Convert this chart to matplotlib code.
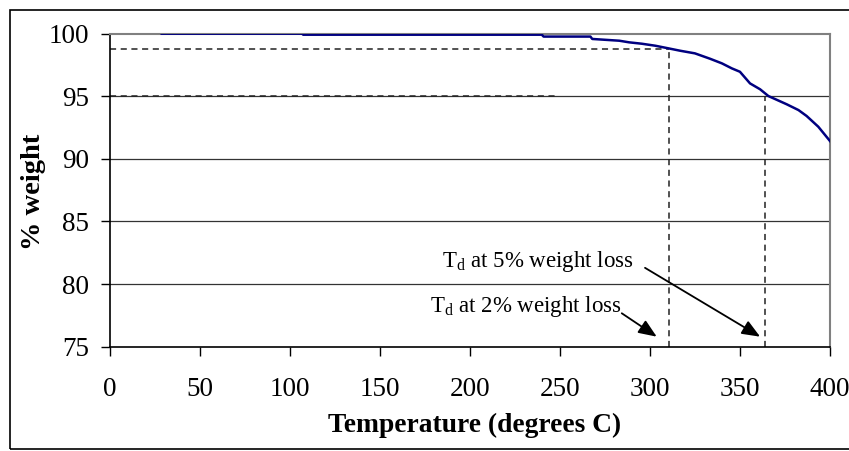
import matplotlib
matplotlib.use("Agg")
import matplotlib.pyplot as plt
from matplotlib.patches import Rectangle

plt.rcParams['font.family'] = ['Liberation Serif', 'DejaVu Serif']
plt.rcParams['mathtext.fontset'] = 'custom'
plt.rcParams['mathtext.rm'] = 'Liberation Serif'
plt.rcParams['mathtext.it'] = 'Liberation Serif:italic'

# TGA curve (temperature in C, % weight)
temperature = [29, 107, 107.5, 240, 241, 267, 268, 283, 288.5, 295.5, 303, 310.3,
               316.8, 325, 333.4, 340, 345.5, 350, 355.6, 361.2, 365.8, 376,
               382.5, 387, 393.5, 401]
weight = [100.0, 100.0, 99.92, 99.92, 99.77, 99.77, 99.58, 99.44, 99.31, 99.2,
          99.04, 98.83, 98.64, 98.43, 98.0, 97.63, 97.23, 96.96, 96.03, 95.56,
          95.02, 94.36, 93.9, 93.43, 92.57, 91.25]

td2_temp, td2_weight = 310.5, 98.8
td5_temp, td5_weight = 363.8, 95.0
dash95_end = 249

x_ticks = [0, 50, 100, 150, 200, 250, 300, 350, 400]
y_ticks = [75, 80, 85, 90, 95, 100]

label_5 = "T$_{\\mathrm{d}}$ at 5% weight loss"
label_2 = "T$_{\\mathrm{d}}$ at 2% weight loss"

fig = plt.figure(figsize=(8.49, 4.51), dpi=100)
ax = fig.add_axes([109.5/849, 1-346.7/451, (830-109.5)/849, (346.7-33.7)/451])

ax.set_xlim(0, 400)
ax.set_ylim(75, 100)

for y in [80, 85, 90, 95]:
    ax.axhline(y, color='#333333', lw=0.9, zorder=1)

dash = (0, (4, 3))
dc = '#222222'
ax.plot([0, td2_temp], [td2_weight, td2_weight], color=dc, lw=1.1, linestyle=dash, zorder=2)
ax.plot([td2_temp, td2_temp], [75, td2_weight], color=dc, lw=1.1, linestyle=dash, zorder=2)
ax.plot([0, dash95_end], [td5_weight, td5_weight], color=dc, lw=1.1, linestyle=dash, zorder=2)
ax.plot([td5_temp, td5_temp], [75, td5_weight], color=dc, lw=1.1, linestyle=dash, zorder=2)

ax.plot(temperature, weight, color='#000080', lw=1.8, zorder=3, clip_on=True)

astyle = dict(arrowstyle='-|>,head_length=1.1,head_width=0.45', color='black',
              lw=1.3, shrinkA=0, shrinkB=0)
ax.annotate("", xy=(361.2, 75.8), xytext=(297.3, 81.3), arrowprops=astyle)
ax.annotate("", xy=(303.8, 75.8), xytext=(284.4, 77.67), arrowprops=astyle)
ax.text(184.5, 81.4, label_5, fontsize=16.5, va='baseline', ha='left')
ax.text(177.8, 77.8, label_2, fontsize=16.5, va='baseline', ha='left')

for s in ['top', 'right']:
    ax.spines[s].set_color('#808080')
    ax.spines[s].set_linewidth(1.5)
for s in ['left', 'bottom']:
    ax.spines[s].set_color('black')
    ax.spines[s].set_linewidth(1.2)

ax.set_xticks(x_ticks)
ax.set_yticks(y_ticks)
ax.tick_params(axis='x', direction='out', length=6.5, width=1, pad=15, labelsize=19.5)
ax.tick_params(axis='y', direction='out', length=6.5, width=1, pad=8, labelsize=19.5)
for lab in ax.get_xticklabels():
    lab.set_clip_on(False)

ax.set_xlabel("Temperature (degrees C)", fontsize=19.8, fontweight='bold')
ax.set_ylabel("% weight", fontsize=20.5, fontweight='bold')
ax.xaxis.set_label_coords((475 - 109.5) / 720.5, -(425 - 346.7) / 313.0)
ax.yaxis.set_label_coords(-(109.5 - 33) / 720.5, (346.7 - 192) / 313.0)
ax.xaxis.label.set_va('center')
ax.yaxis.label.set_va('center')

fig.patches.append(Rectangle((10/849, 1-449/451), 2.0, (449-10)/451,
                             transform=fig.transFigure, fill=False,
                             edgecolor='black', lw=1.2, zorder=0))

fig.savefig("out.png", dpi=100)
